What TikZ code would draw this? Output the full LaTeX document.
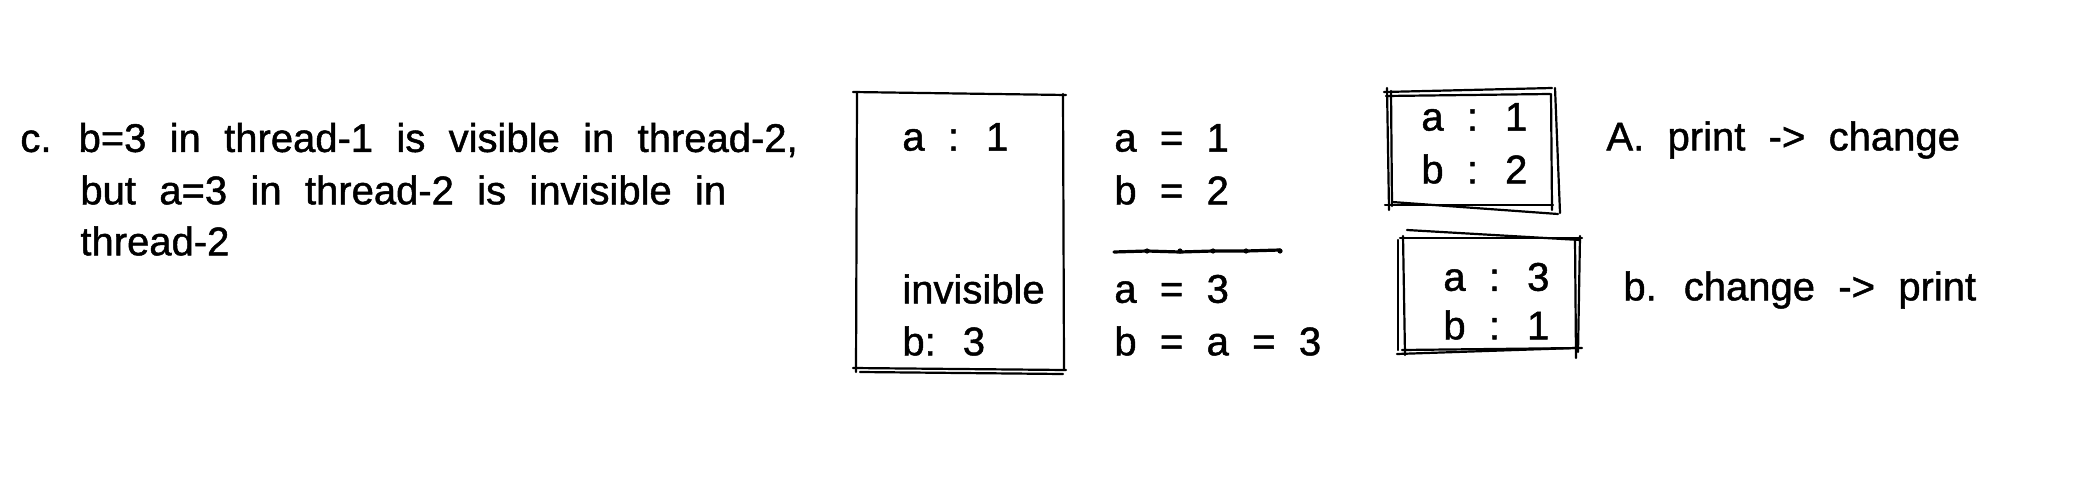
\documentclass[tikz,border=0pt]{standalone}
\usepackage{fontspec}
\setmainfont{Liberation Sans}[WordSpace=2.1,FakeBold=1.2]
\begin{document}
\begin{tikzpicture}[x=0.5pt,y=-0.5pt,
  sk/.style={line width=1.1pt,line cap=round,black},
  txt/.style={anchor=west,inner sep=0pt,font=\fontsize{20}{24}\selectfont}]
\useasboundingbox[fill=white] (0,0) rectangle (2086,498);
% left text
\node[txt] (l1) at (20,140) {c. b=3 in thread-1 is visible in thread-2,};
\node[txt] (l2) at (80,190) {but a=3 in thread-2 is invisible in};
\node[txt] (l3) at (80,241) {thread-2};
% big box
\draw[sk] (853,92) -- (1066,95);
\draw[sk] (857,92) -- (856,372);
\draw[sk] (1063,94) -- (1064,370);
\draw[sk] (853,368) -- (1066,370);
\draw[sk] (860,372) -- (1063,374);
\node[txt] (ba) at (902,137) {a : 1};
\node[txt] (bi) at (902,289) {invisible};
\node[txt] (bb) at (902,341) {b: 3};
% middle
\node[txt] (m1) at (1114,138) {a = 1};
\node[txt] (m2) at (1114,190) {b = 2};
\draw[line width=1.6pt,line cap=round] (1114,252) -- (1147,251) -- (1180,252) -- (1213,251) -- (1246,251) -- (1280,250);
\foreach \xx in {1147,1180,1213,1246,1280} \fill (\xx,251) circle (1.3pt);
\node[txt] (m3) at (1114,289) {a = 3};
\node[txt] (m4) at (1114,341) {b = a = 3};
% box A
\draw[sk] (1384,92) -- (1552,88);
\draw[sk] (1386,96) -- (1550,94);
\draw[sk] (1387,88) -- (1389,210);
\draw[sk] (1391,91) -- (1392,206);
\draw[sk] (1555,88) -- (1560,213);
\draw[sk] (1551,94) -- (1552,210);
\draw[sk] (1385,205) -- (1553,205);
\draw[sk] (1392,202) -- (1558,214);
\node[txt] (a1) at (1421,117) {a : 1};
\node[txt] (a2) at (1421,169) {b : 2};
\node[txt] (at) at (1606,140) {A. print -> change};
% box B
\draw[sk] (1407,230) -- (1580,240);
\draw[sk] (1400,238) -- (1582,238);
\draw[sk] (1403,236) -- (1405,355);
\draw[sk] (1398,240) -- (1398,350);
\draw[sk] (1575,240) -- (1576,358);
\draw[sk] (1580,236) -- (1578,352);
\draw[sk] (1397,354) -- (1575,348);
\draw[sk] (1402,350) -- (1582,348);
\node[txt] (b1) at (1443,277) {a : 3};
\node[txt] (b2) at (1443,325) {b : 1};
\node[txt] (bt) at (1623,290) {b. change -> print};
\end{tikzpicture}
\end{document}
